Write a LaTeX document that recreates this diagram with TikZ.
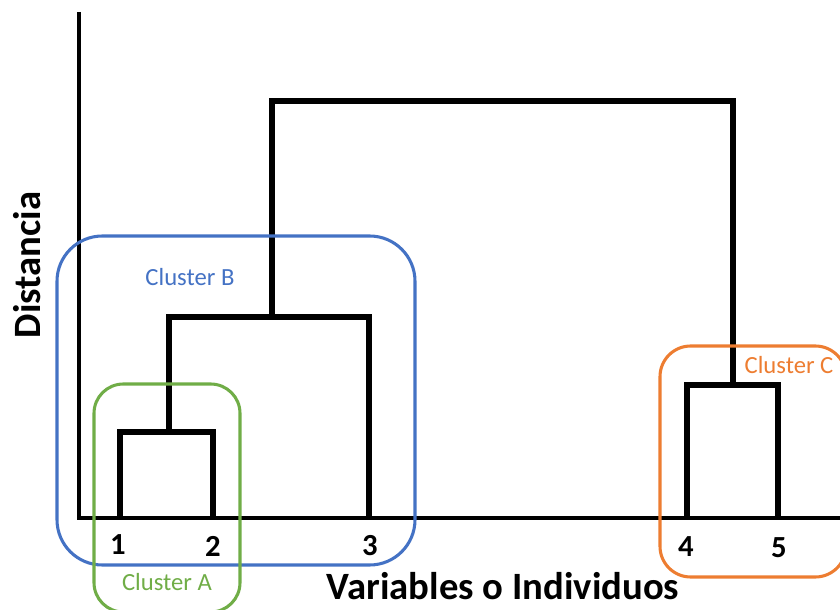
\documentclass[tikz,border=0pt]{standalone}
\usepackage{fontspec}
\setmainfont{Carlito}
\definecolor{clA}{HTML}{70AD47}
\definecolor{clB}{HTML}{4472C4}
\definecolor{clC}{HTML}{ED7D31}
\begin{document}
\begin{tikzpicture}[x=0.75pt,y=-0.75pt,
  axisline/.style={line width=2.3pt},
  link/.style={line width=4.5pt},
  clusterbox/.style={line width=2.3pt, rounded corners=#1},
  leaflabel/.style={font=\fontsize{23}{27}\selectfont\bfseries, inner sep=0pt},
  clusterlabel/.style={font=\fontsize{18.5}{22}\selectfont, inner sep=0pt},
  axislabel/.style={font=\fontsize{29}{34}\selectfont\bfseries, inner sep=0pt}]
\useasboundingbox (0,0) rectangle (840,610);
\clip (0,0) rectangle (840,610);

% axes
\coordinate (ytop) at (79,12);
\coordinate (origin) at (79,518);
\coordinate (xend) at (842,518);
\draw[axisline] (ytop) -- (origin) -- (xend);

% leaves
\coordinate (l1) at (120,517);
\coordinate (l2) at (213,517);
\coordinate (l3) at (369,517);
\coordinate (l4) at (687,517);
\coordinate (l5) at (778,517);

% merge heights
\coordinate (m12) at (169,432);
\coordinate (m123) at (272,317);
\coordinate (m45) at (732.5,385);
\coordinate (mall) at (502,101);

% dendrogram
\draw[link] (l1) |- (m12) -| (l2);
\draw[link] (m12) -- ++(0,-115) coordinate (b12) -| (l3);
\draw[link] (l4) |- (m45) -| (l5);
\draw[link] (m123) -- (m123 |- mall) -| (m45);

% cluster boxes
\draw[clB, clusterbox=34pt] (57,236) rectangle (415,565);
\draw[clA, clusterbox=22pt] (94,384) rectangle (240,612);
\draw[clC, clusterbox=23pt] (660,346) rectangle (846,577);

% labels
\node[leaflabel] (t1) at (118,545) {1};
\node[leaflabel] (t2) at (213,546) {2};
\node[leaflabel] (t3) at (370,546) {3};
\node[leaflabel] (t4) at (686,547) {4};
\node[leaflabel] (t5) at (779,548) {5};

\node[clusterlabel, text=clB] (cb) at (190,277) {Cluster B};
\node[clusterlabel, text=clA] (ca) at (167,582) {Cluster A};
\node[clusterlabel, text=clC] (cc) at (789,365) {Cluster C};

\node[axislabel] (xl) at (503,586) {Variables o Individuos};
\node[axislabel, rotate=90] (yl) at (27,265) {Distancia};
\end{tikzpicture}
\end{document}
